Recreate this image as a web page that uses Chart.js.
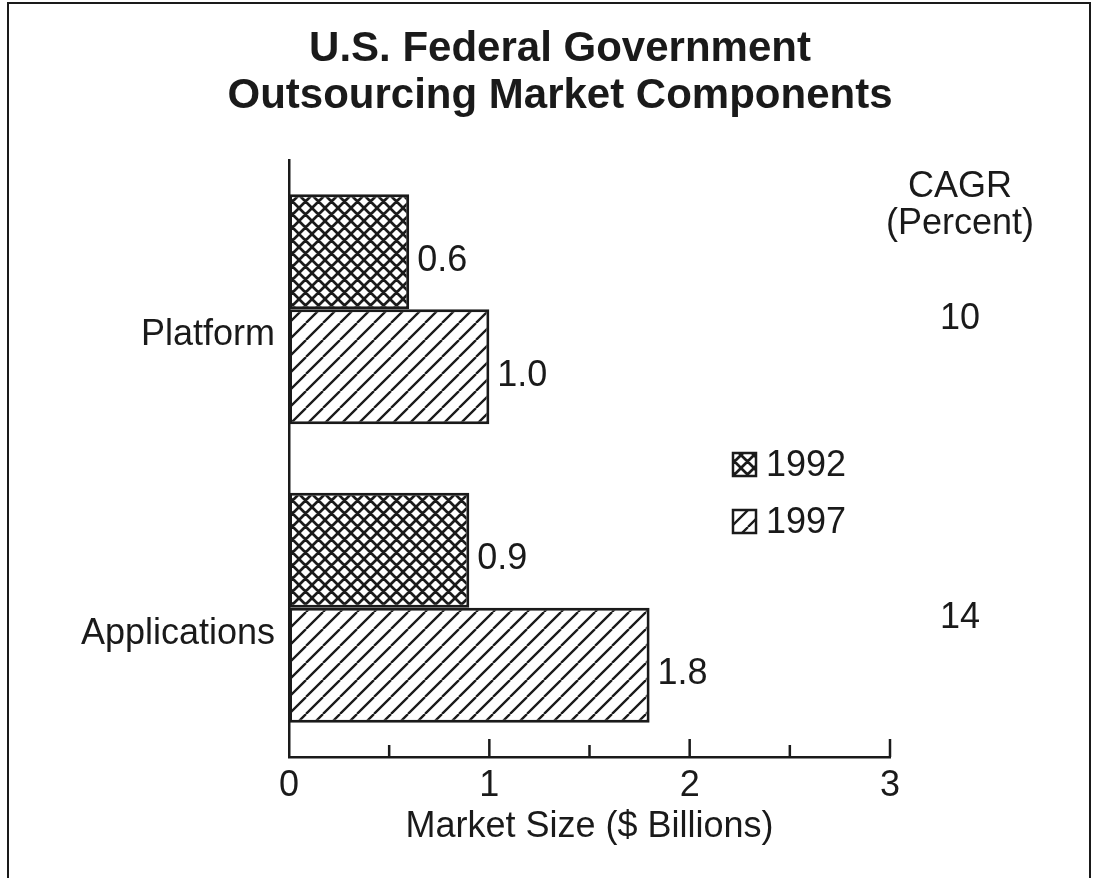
<!DOCTYPE html>
<html>
<head>
<meta charset="utf-8">
<title>U.S. Federal Government Outsourcing Market Components</title>
<script src="https://cdn.jsdelivr.net/npm/chart.js"></script>
<style>
  html, body { margin: 0; padding: 0; background: #fff; }
</style>
</head>
<body>
<canvas id="outsourcingChart" width="1097" height="878"></canvas>
<script>
  const categories = ['Platform', 'Applications'];
  const years = ['1992', '1997'];
  const values1992 = [0.6, 0.9];
  const values1997 = [1.0, 1.8];
  const cagrPercent = ['10', '14'];
  const xTickLabels = ['0', '1', '2', '3'];
  const titleLines = ['U.S. Federal Government', 'Outsourcing Market Components'];
  const cagrHeader = ['CAGR', '(Percent)'];

  const INK = '#1a1a1a';
  const FONT = '"Liberation Sans", Arial, Helvetica, sans-serif';
  const TEXT_SIZE = 36;

  // 1992: dense cross-hatch
  function crossHatch() {
    const s = 13;
    const c = document.createElement('canvas');
    c.width = c.height = s;
    const g = c.getContext('2d');
    g.fillStyle = '#fff';
    g.fillRect(0, 0, s, s);
    g.strokeStyle = INK;
    g.lineWidth = 2.7;
    g.beginPath();
    for (let k = -1; k <= 1; k++) {
      g.moveTo(k * s, 0); g.lineTo(k * s + s, s);
      g.moveTo(k * s, s); g.lineTo(k * s + s, 0);
    }
    g.stroke();
    return g.createPattern(c, 'repeat');
  }

  // 1997: forward slash hatch
  function slashHatch() {
    const s = 17;
    const c = document.createElement('canvas');
    c.width = c.height = s;
    const g = c.getContext('2d');
    g.fillStyle = '#fff';
    g.fillRect(0, 0, s, s);
    g.strokeStyle = INK;
    g.lineWidth = 2.3;
    g.beginPath();
    for (let k = -1; k <= 1; k++) {
      g.moveTo(k * s, s); g.lineTo(k * s + s, 0);
    }
    g.stroke();
    return g.createPattern(c, 'repeat');
  }

  // tick marks pointing up into the plot, long at whole numbers
  const inwardTicks = {
    id: 'inwardTicks',
    afterDatasetsDraw(chart) {
      const { ctx, chartArea } = chart;
      const x = chart.scales.x;
      ctx.save();
      ctx.strokeStyle = INK;
      ctx.lineWidth = 2.5;
      x.ticks.forEach(t => {
        if (t.value === 0) return;
        const px = x.getPixelForValue(t.value);
        const len = Number.isInteger(t.value) ? 18 : 12;
        ctx.beginPath();
        ctx.moveTo(px, chartArea.bottom);
        ctx.lineTo(px, chartArea.bottom - len);
        ctx.stroke();
      });
      ctx.restore();
    }
  };

  const valueLabels = {
    id: 'valueLabels',
    afterDatasetsDraw(chart) {
      const { ctx } = chart;
      ctx.save();
      ctx.fillStyle = INK;
      ctx.font = TEXT_SIZE + 'px ' + FONT;
      ctx.textAlign = 'left';
      ctx.textBaseline = 'middle';
      chart.data.datasets.forEach((ds, i) => {
        chart.getDatasetMeta(i).data.forEach((bar, j) => {
          ctx.fillText(ds.data[j].toFixed(1), bar.x + 8, bar.y + 9);
        });
      });
      ctx.restore();
    }
  };

  const decorations = {
    id: 'decorations',
    afterDraw(chart) {
      const { ctx } = chart;
      const y = chart.scales.y;
      ctx.save();
      ctx.fillStyle = INK;

      // title
      ctx.font = 'bold 42px ' + FONT;
      ctx.textAlign = 'center';
      ctx.textBaseline = 'alphabetic';
      ctx.fillText(titleLines[0], 560, 61);
      ctx.fillText(titleLines[1], 560, 108);

      // CAGR column
      ctx.font = TEXT_SIZE + 'px ' + FONT;
      ctx.textBaseline = 'middle';
      ctx.fillText(cagrHeader[0], 960, 187);
      ctx.fillText(cagrHeader[1], 960, 224);
      cagrPercent.forEach((v, i) => {
        ctx.fillText(v, 960, y.getPixelForValue(i) + 10);
      });

      // legend
      ctx.textAlign = 'left';
      chart.data.datasets.forEach((ds, i) => {
        const top = 453 + i * 57;
        ctx.fillStyle = ds.backgroundColor;
        ctx.fillRect(733, top, 23, 23);
        ctx.strokeStyle = INK;
        ctx.lineWidth = 2.5;
        ctx.strokeRect(733, top, 23, 23);
        ctx.fillStyle = INK;
        ctx.fillText(ds.label, 766, top + 13);
      });

      // frame
      ctx.strokeStyle = INK;
      ctx.lineWidth = 2;
      ctx.strokeRect(8, 3, 1082, 890);
      ctx.restore();
    }
  };

  const ctx = document.getElementById('outsourcingChart').getContext('2d');
  new Chart(ctx, {
    type: 'bar',
    data: {
      labels: categories,
      datasets: [
        {
          label: years[0],
          data: values1992,
          backgroundColor: crossHatch(),
          borderColor: INK,
          borderWidth: 3,
          borderSkipped: false,
          categoryPercentage: 0.77,
          barPercentage: 1
        },
        {
          label: years[1],
          data: values1997,
          backgroundColor: slashHatch(),
          borderColor: INK,
          borderWidth: 3,
          borderSkipped: false,
          categoryPercentage: 0.77,
          barPercentage: 1
        }
      ]
    },
    options: {
      indexAxis: 'y',
      responsive: false,
      animation: false,
      layout: { padding: { left: 20, right: 207, top: 160, bottom: 0 } },
      scales: {
        x: {
          min: 0,
          max: 3,
          ticks: {
            stepSize: 0.5,
            autoSkip: false,
            maxRotation: 0,
            color: INK,
            padding: 7,
            font: { family: FONT, size: TEXT_SIZE },
            callback: v => Number.isInteger(v) ? xTickLabels[v] : ''
          },
          grid: { display: false, drawTicks: false },
          border: { display: true, color: INK, width: 2.5 },
          title: {
            display: true,
            text: 'Market Size ($ Billions)',
            color: INK,
            font: { family: FONT, size: TEXT_SIZE },
            padding: { top: 0, bottom: 29 }
          },
          afterFit: s => { s.height = 121; }
        },
        y: {
          ticks: {
            color: INK,
            padding: 14,
            labelOffset: 26,
            font: { family: FONT, size: TEXT_SIZE }
          },
          grid: { display: false, drawTicks: false },
          border: { display: true, color: INK, width: 2.5 },
          afterFit: s => { s.width = 269; }
        }
      },
      plugins: {
        legend: { display: false },
        tooltip: { enabled: false },
        title: { display: false }
      }
    },
    plugins: [inwardTicks, valueLabels, decorations]
  });
</script>
</body>
</html>
